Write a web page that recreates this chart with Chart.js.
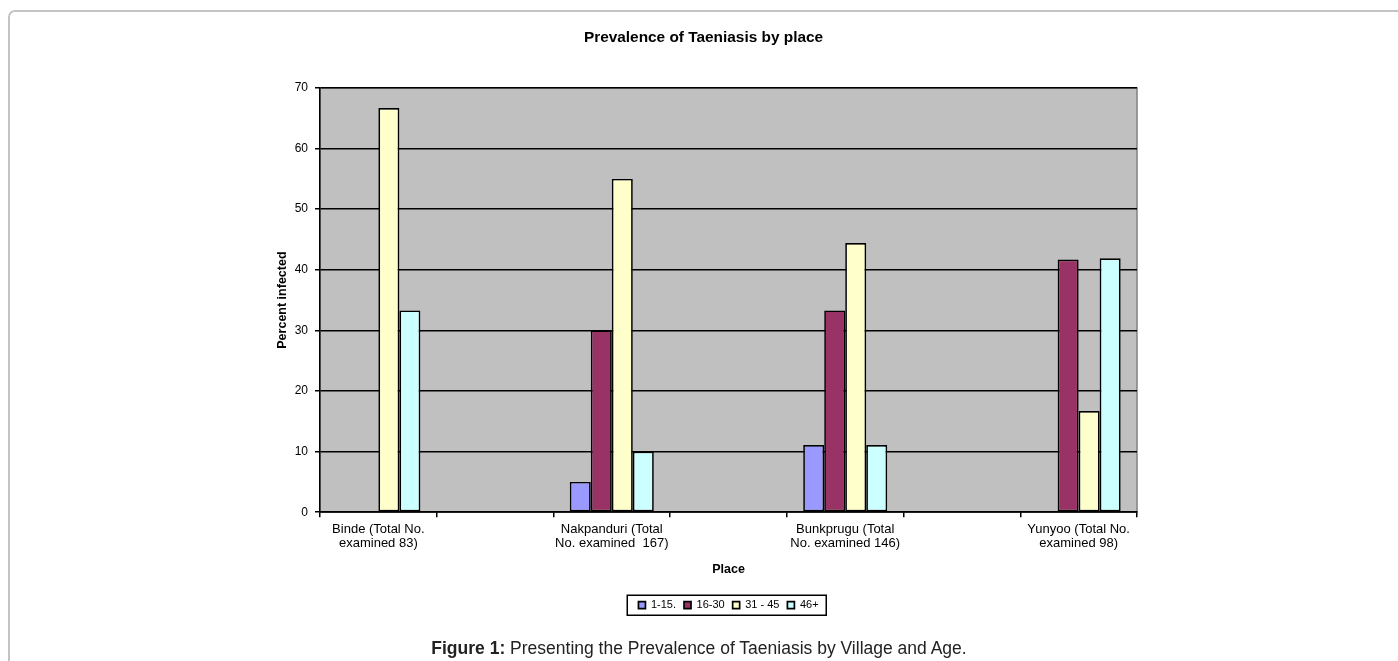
<!DOCTYPE html>
<html>
<head>
<meta charset="utf-8">
<script src="https://cdn.jsdelivr.net/npm/chart.js@4"></script>
<style>
  html, body { margin: 0; padding: 0; background: #fff; }
  #page { position: relative; width: 1398px; height: 661px; overflow: hidden; font-family: "Liberation Sans", Arial, sans-serif; }
  #frame { position: absolute; left: 8px; top: 10px; width: 1500px; height: 800px; border: 2px solid #c4c4c4; border-radius: 7px; box-sizing: border-box; }
  #chartbox { position: absolute; left: 0; top: 0; width: 1398px; height: 661px; }
  #caption { position: absolute; left: 0; top: 637px; width: 1398px; text-align: center; font-size: 17.5px; color: #222; line-height: 22px; }
</style>
</head>
<body>
<div id="page">
  <div id="frame"></div>
  <div id="chartbox"><canvas id="c" width="1398" height="661"></canvas></div>
  <div id="caption"><b>Figure 1:</b> Presenting the Prevalence of Taeniasis by Village and Age.</div>
</div>
<script>
// ---- data ----
const categories = [
  ["Binde (Total No.", "examined 83)"], "",
  ["Nakpanduri (Total", "No. examined  167)"], "",
  ["Bunkprugu (Total", "No. examined 146)"], "",
  ["Yunyoo (Total No.", "examined 98)"]
];
const seriesNames = ["1-15.", "16-30", "31 - 45", "46+"];
const age1to15  = [0, null, 5, null, 11.1, null, 0];
const age16to30 = [0, null, 30, null, 33.3, null, 41.7];
const age31to45 = [66.7, null, 55, null, 44.4, null, 16.7];
const age46plus = [33.3, null, 10, null, 11.1, null, 41.9];
const yTicks = [0, 10, 20, 30, 40, 50, 60, 70];

const chartTitle = "Prevalence of Taeniasis by place";
const xTitle = "Place";
const yTitle = "Percent infected";

// ---- styles ----
const colors = ["#9999FF", "#993366", "#FFFFCC", "#CCFFFF"];
const FONT = '"Liberation Sans", Arial, sans-serif';
Chart.defaults.font.family = FONT;
Chart.defaults.color = "#000";

const plotBg = {
  id: "plotBg",
  beforeDraw(chart) {
    const {ctx, chartArea: a} = chart;
    ctx.save();
    ctx.fillStyle = "#C0C0C0";
    ctx.fillRect(a.left, a.top, a.right - a.left, a.bottom - a.top);
    ctx.strokeStyle = "#808080";
    ctx.lineWidth = 1.5;
    ctx.strokeRect(a.left, a.top, a.right - a.left, a.bottom - a.top);
    ctx.restore();
  }
};

const legendBox = {
  id: "legendBox",
  afterDraw(chart) {
    const lg = chart.legend;
    if (!lg || !lg.legendHitBoxes || !lg.legendHitBoxes.length) return;
    const hb = lg.legendHitBoxes;
    let minX = Infinity, maxX = -Infinity, minY = Infinity, maxY = -Infinity;
    hb.forEach(h => {
      minX = Math.min(minX, h.left);
      maxX = Math.max(maxX, h.left + h.width);
      minY = Math.min(minY, h.top);
      maxY = Math.max(maxY, h.top + h.height);
    });
    const ctx = chart.ctx;
    ctx.save();
    ctx.strokeStyle = "#000";
    ctx.lineWidth = 1.5;
    ctx.strokeRect(Math.round(minX - 11.5) + 0.25, Math.round(minY - 4.5) + 0.25, Math.round(maxX - minX + 18.5), Math.round(maxY - minY + 9));
    ctx.restore();
  }
};

const datasets = [age1to15, age16to30, age31to45, age46plus].map((d, i) => ({
  label: seriesNames[i],
  data: d,
  backgroundColor: colors[i],
  borderColor: "#000",
  borderWidth: 1.7,
  borderSkipped: false,
  categoryPercentage: 0.72,
  barPercentage: 1.0
}));

new Chart(document.getElementById("c"), {
  type: "bar",
  data: { labels: categories, datasets },
  plugins: [plotBg, legendBox],
  options: {
    responsive: false,
    animation: false,
    layout: { padding: { left: 270, right: 261, top: 0, bottom: 40.4 } },
    plugins: {
      title: {
        display: true,
        text: chartTitle,
        color: "#000",
        font: { size: 15.4, weight: "bold", family: FONT, lineHeight: 1.2 },
        padding: { top: 28.8, bottom: 40.7 }
      },
      legend: {
        display: true,
        position: "bottom",
        fullSize: false,
        labels: {
          boxWidth: 7,
          boxHeight: 7,
          padding: 8,
          color: "#000",
          font: { size: 11, family: FONT, lineHeight: 1.2 }
        }
      },
      tooltip: { enabled: false }
    },
    scales: {
      x: {
        grid: {
          display: true,
          drawOnChartArea: false,
          drawTicks: true,
          tickLength: 5,
          color: "#000",
          lineWidth: 1.5,
          offset: true
        },
        border: { display: true, color: "#000", width: 1.5 },
        ticks: {
          autoSkip: false,
          maxRotation: 0,
          minRotation: 0,
          padding: 5,
          color: "#000",
          font: { size: 13, family: FONT, lineHeight: 1.1 }
        },
        title: {
          display: true,
          text: xTitle,
          color: "#000",
          font: { size: 12.5, weight: "bold", family: FONT, lineHeight: 1.2 },
          padding: { top: 0, bottom: 14.6 }
        },
        afterFit(scale) { scale.height = 79.4; }
      },
      y: {
        min: 0,
        max: 70,
        afterBuildTicks(scale) { scale.ticks = yTicks.map(v => ({ value: v })); },
        grid: {
          color: "#000",
          lineWidth: 1.5,
          drawTicks: true,
          tickLength: 5
        },
        border: { display: true, color: "#000", width: 1.5 },
        ticks: {
          padding: 7,
          color: "#000",
          font: { size: 12, family: FONT }
        },
        title: {
          display: true,
          text: yTitle,
          color: "#000",
          font: { size: 12.5, weight: "bold", family: FONT, lineHeight: 1.2 },
          padding: { top: 5.5, bottom: 0 }
        },
        afterFit(scale) { scale.width = 50; }
      }
    }
  }
});
</script>
</body>
</html>
